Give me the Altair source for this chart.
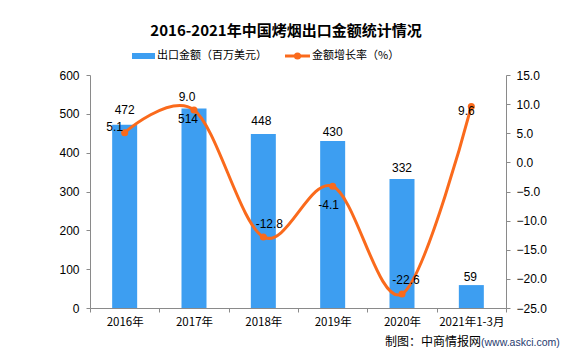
import altair as alt
import pandas as pd

# ---- data ----
categories = ["2016年", "2017年", "2018年", "2019年", "2020年", "2021年1-3月"]
export_values = [472, 514, 448, 430, 332, 59]          # 出口金额（百万美元）
growth_rates = [5.1, 9.0, -12.8, -4.1, -22.6, 9.6]     # 金额增长率（%）

title_text = "2016-2021年中国烤烟出口金额统计情况"
legend_bar = "出口金额（百万美元）"
legend_line = "金额增长率（%）"
source_a = "制图：中商情报网"
source_b = "(www.askci.com)"

# label offsets (pixels) to mimic the reference label placement
bar_label_offsets = [(0, -15), (-6, 11), (-2, -13), (0, -9), (0, -11), (-1, -8)]
line_label_offsets = [(-10, -6), (-7, -13), (6, -13), (-4, 19), (4, -14), (-5, 5)]

df = pd.DataFrame({"cat": categories, "value": export_values, "rate": growth_rates})
df["value_label"] = [str(v) for v in export_values]
df["rate_label"] = [f"{r:.1f}" for r in growth_rates]

BLUE = "#3D9EF1"
ORANGE = "#FA6A1C"
AXIS_GRAY = "#8A8A8A"
FONT_CJK = "Noto Sans CJK SC"
FONT_NUM = "Liberation Sans"

W, H = 416, 233

x_enc = alt.X(
    "cat:N",
    sort=categories,
    scale=alt.Scale(paddingInner=0, paddingOuter=0),
    axis=alt.Axis(
        title=None, labelAngle=0, tickBand="extent", labelPadding=4,
        labelFont=FONT_CJK, labelFontSize=11.5, grid=False,
    ),
)

left_scale = alt.Scale(domain=[0, 600], nice=False, zero=True)
right_scale = alt.Scale(domain=[-25, 15], nice=False, zero=False)

base = alt.Chart(df)

bars = base.mark_bar(size=25, color=BLUE).encode(
    x=x_enc,
    y=alt.Y(
        "value:Q", scale=left_scale,
        axis=alt.Axis(
            orient="left", title=None, values=[0, 100, 200, 300, 400, 500, 600],
            grid=False, labelPadding=7, labelFont=FONT_NUM, labelFontSize=12,
        ),
    ),
)

line = base.mark_line(interpolate="cardinal", color=ORANGE, strokeWidth=3).encode(
    x=x_enc,
    y=alt.Y(
        "rate:Q", scale=right_scale,
        axis=alt.Axis(
            orient="right", title=None, values=[-25, -20, -15, -10, -5, 0, 5, 10, 15],
            format=".1f", grid=False, labelPadding=6, labelFont=FONT_NUM, labelFontSize=12,
        ),
    ),
)

points = base.mark_circle(size=50, color=ORANGE, opacity=1).encode(
    x=x_enc, y=alt.Y("rate:Q", scale=right_scale, axis=None)
)

layers = [bars, line, points]

for i, (dx, dy) in enumerate(bar_label_offsets):
    layers.append(
        alt.Chart(df.iloc[[i]]).mark_text(
            dx=dx, dy=dy, font=FONT_NUM, fontSize=12, color="black", baseline="middle"
        ).encode(x=x_enc, y=alt.Y("value:Q", scale=left_scale, axis=None), text="value_label:N")
    )

for i, (dx, dy) in enumerate(line_label_offsets):
    layers.append(
        alt.Chart(df.iloc[[i]]).mark_text(
            dx=dx, dy=dy, font=FONT_NUM, fontSize=12, color="black", baseline="middle"
        ).encode(x=x_enc, y=alt.Y("rate:Q", scale=right_scale, axis=None), text="rate_label:N")
    )

# ---- title, legend and source annotations ----
ann = alt.Chart(pd.DataFrame({"t": [title_text]}))
title = ann.mark_text(
    font=FONT_CJK, fontSize=15, fontWeight="bold", color="black", align="center", baseline="middle"
).encode(x=alt.value(196), y=alt.value(-44), text="t:N")

leg_rect = ann.mark_rect(color=BLUE).encode(
    x=alt.value(42), x2=alt.value(65), y=alt.value(-22), y2=alt.value(-16)
)
leg_text1 = alt.Chart(pd.DataFrame({"t": [legend_bar]})).mark_text(
    font=FONT_CJK, fontSize=11, color="black", align="left", baseline="middle"
).encode(x=alt.value(67), y=alt.value(-19), text="t:N")
leg_rule = ann.mark_rule(color=ORANGE, strokeWidth=3).encode(
    x=alt.value(195), x2=alt.value(220), y=alt.value(-19)
)
leg_dot = ann.mark_circle(color=ORANGE, size=50, opacity=1).encode(
    x=alt.value(207.5), y=alt.value(-19)
)
leg_text2 = alt.Chart(pd.DataFrame({"t": [legend_line]})).mark_text(
    font=FONT_CJK, fontSize=11, color="black", align="left", baseline="middle"
).encode(x=alt.value(222), y=alt.value(-19), text="t:N")

src1 = alt.Chart(pd.DataFrame({"t": [source_a]})).mark_text(
    font=FONT_CJK, fontSize=12, color="black", align="right", baseline="middle"
).encode(x=alt.value(391), y=alt.value(267), text="t:N")
src2 = alt.Chart(pd.DataFrame({"t": [source_b]})).mark_text(
    font=FONT_NUM, fontSize=10.5, color="#1F3A6E", align="left", baseline="middle"
).encode(x=alt.value(391), y=alt.value(268), text="t:N")

layers += [title, leg_rect, leg_text1, leg_rule, leg_dot, leg_text2, src1, src2]

chart = (
    alt.layer(*layers)
    .resolve_scale(y="independent")
    .properties(
        width=W, height=H,
        autosize=alt.AutoSizeParams(type="none"),
        padding={"left": 82, "top": 67, "right": 61, "bottom": 43},
        background="white",
    )
    .configure_view(stroke=None)
    .configure_axis(
        domainColor=AXIS_GRAY, tickColor=AXIS_GRAY, tickSize=4, labelColor="black",
        domainWidth=1, tickWidth=1,
    )
)

chart.save("out.html", embed_options={"renderer": "svg", "actions": False})
